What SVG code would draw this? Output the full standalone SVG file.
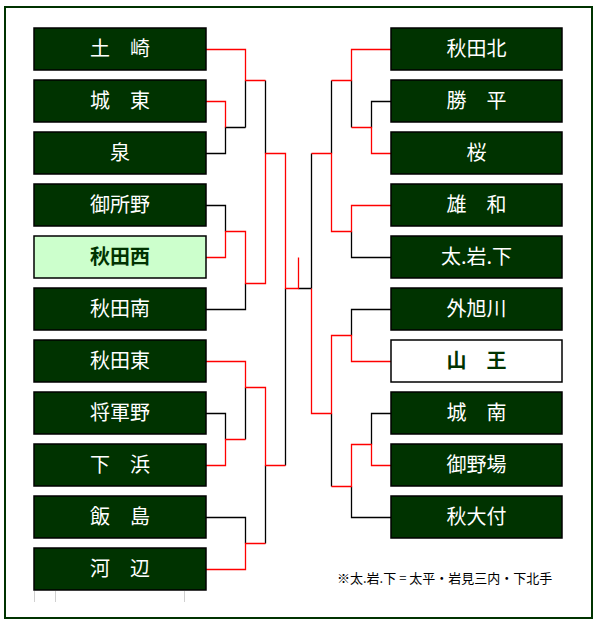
<svg xmlns="http://www.w3.org/2000/svg" width="599" height="625" viewBox="0 0 599 625">
<style>
.box{fill:#003300;stroke:#000;stroke-width:1.5}
.t{fill:#fff;font-family:"Noto Sans CJK JP","Noto Sans CJK SC",sans-serif;font-size:20px;text-anchor:middle}
.tb{fill:#003300;font-weight:bold}
.k{fill:none;stroke:#000;stroke-width:1.3}
.r{fill:none;stroke:#ff0000;stroke-width:1.3}
.g{stroke:#d0d0d0;stroke-width:1}
</style>
<rect width="599" height="625" fill="#fff"/>
<rect x="5" y="7" width="587" height="611" fill="none" stroke="#003300" stroke-width="2"/>
<g id="grid"><line class="g" x1="34.5" y1="591" x2="34.5" y2="602"/><line class="g" x1="55.5" y1="591" x2="55.5" y2="602"/><line class="g" x1="184.5" y1="591" x2="184.5" y2="602"/></g>
<g id="connectors">
<path class="k" d="M206 153.5H225.5V127.5H245.5M245.5 80.5V127.5M265.5 80.5V153.5M206 205.5H225.5V231.5M206 309.5H245.5V283.5M206 413.5H225.5V439.5M245.5 387.5V439.5M206 517.5H245.5V543.5M265.5 465.5V543.5M285.5 288.5V465.5M298.5 288.5H311.5"/>
<path class="k" d="M391 101.5H371.5V127.5M351.5 80.5V127.5M331.5 80.5V153.5M391 257.5H351.5V231.5M311.5 153.5V288.5M391 309.5H351.5V335.5M391 413.5H371.5V444.5M391 517.5H351.5V486.5M331.5 413.5V486.5"/>
<path class="r" d="M206 49.5H245.5V80.5H265.5M206 101.5H225.5V127.5M206 257.5H225.5V231.5H245.5V283.5H265.5V153.5H285.5V288.5H298.5V257.5M206 361.5H245.5V387.5H265.5V465.5H285.5M206 465.5H225.5V439.5H245.5M206 569.5H245.5V543.5H265.5"/>
<path class="r" d="M391 49.5H351.5V80.5H331.5M391 153.5H371.5V127.5H351.5M391 205.5H351.5V231.5H331.5V153.5H311.5M391 361.5H351.5V335.5H331.5V413.5H311.5V288.5M391 465.5H371.5V444.5H351.5V486.5H331.5"/>
</g>
<g id="L1"><rect class="box" x="34" y="28" width="172" height="42"/><text class="t" x="120" y="56">土　崎</text></g>
<g id="L2"><rect class="box" x="34" y="80" width="172" height="42"/><text class="t" x="120" y="108">城　東</text></g>
<g id="L3"><rect class="box" x="34" y="132" width="172" height="42"/><text class="t" x="120" y="160">泉</text></g>
<g id="L4"><rect class="box" x="34" y="184" width="172" height="42"/><text class="t" x="120" y="212">御所野</text></g>
<g id="L5"><rect class="box" x="34" y="236" width="172" height="42" style="fill:#ccffcc"/><text class="t tb" x="120" y="264">秋田西</text></g>
<g id="L6"><rect class="box" x="34" y="288" width="172" height="42"/><text class="t" x="120" y="316">秋田南</text></g>
<g id="L7"><rect class="box" x="34" y="340" width="172" height="42"/><text class="t" x="120" y="368">秋田東</text></g>
<g id="L8"><rect class="box" x="34" y="392" width="172" height="42"/><text class="t" x="120" y="420">将軍野</text></g>
<g id="L9"><rect class="box" x="34" y="444" width="172" height="42"/><text class="t" x="120" y="472">下　浜</text></g>
<g id="L10"><rect class="box" x="34" y="496" width="172" height="42"/><text class="t" x="120" y="524">飯　島</text></g>
<g id="L11"><rect class="box" x="34" y="548" width="172" height="42"/><text class="t" x="120" y="576">河　辺</text></g>
<g id="R1"><rect class="box" x="391" y="28" width="171" height="42"/><text class="t" x="476.5" y="56">秋田北</text></g>
<g id="R2"><rect class="box" x="391" y="80" width="171" height="42"/><text class="t" x="476.5" y="108">勝　平</text></g>
<g id="R3"><rect class="box" x="391" y="132" width="171" height="42"/><text class="t" x="476.5" y="160">桜</text></g>
<g id="R4"><rect class="box" x="391" y="184" width="171" height="42"/><text class="t" x="476.5" y="212">雄　和</text></g>
<g id="R5"><rect class="box" x="391" y="236" width="171" height="42"/><text class="t" x="476.5" y="264">太.岩.下</text></g>
<g id="R6"><rect class="box" x="391" y="288" width="171" height="42"/><text class="t" x="476.5" y="316">外旭川</text></g>
<g id="R7"><rect class="box" x="391" y="340" width="171" height="42" style="fill:#fff"/><text class="t tb" x="476.5" y="368">山　王</text></g>
<g id="R8"><rect class="box" x="391" y="392" width="171" height="42"/><text class="t" x="476.5" y="420">城　南</text></g>
<g id="R9"><rect class="box" x="391" y="444" width="171" height="42"/><text class="t" x="476.5" y="472">御野場</text></g>
<g id="R10"><rect class="box" x="391" y="496" width="171" height="42"/><text class="t" x="476.5" y="524">秋大付</text></g>
<text x="337" y="583" font-family="'Noto Sans CJK JP','Noto Sans CJK SC',sans-serif" font-size="13" fill="#000">※太.岩.下 = 太平・岩見三内・下北手</text>
</svg>
